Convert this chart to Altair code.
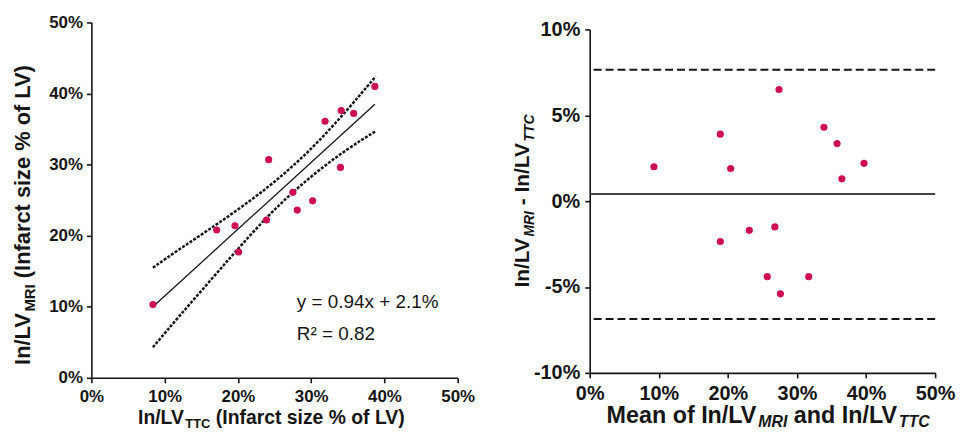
import altair as alt
import pandas as pd

# ---------------- data ----------------
# Left panel: In/LV TTC (x) vs In/LV MRI (y), in %
ttc = [8.4, 17.1, 19.6, 20.1, 23.9, 24.2, 27.5, 28.1, 30.2, 31.9, 34.0, 34.1, 35.8, 38.7]
mri = [10.3, 20.8, 21.4, 17.7, 22.2, 30.7, 26.1, 23.6, 24.9, 36.1, 29.6, 37.6, 37.2, 41.0]
# regression line end points
reg_x = [8.4, 38.7]
reg_y = [10.0, 38.5]
# 95% confidence band
band_x = [8.4, 12, 16, 20, 24, 27.5, 31, 35, 38.8]
band_upper = [15.5, 18.1, 20.8, 23.65, 26.7, 29.75, 33.2, 37.75, 42.4]
band_lower = [4.3, 8.7, 13.4, 18.15, 22.7, 26.15, 29.2, 32.25, 34.7]
equation_text = ["y = 0.94x + 2.1%", "R\u00b2 = 0.82"]

# Right panel: Bland-Altman
ba_mean = [9.3, 18.9, 20.4, 27.4, 33.9, 35.8, 36.5, 39.7, 18.9, 23.1, 26.8, 25.7, 31.7, 27.6]
ba_diff = [2.0, 3.9, 1.9, 6.5, 4.3, 3.35, 1.3, 2.2, -2.35, -1.7, -1.5, -4.4, -4.4, -5.4]
bias = [0.42]
limits = [7.65, -6.87]

left_ticks = [0, 10, 20, 30, 40, 50]
right_x_ticks = [0, 10, 20, 30, 40, 50]
right_y_ticks = [-10, -5, 0, 5, 10]

# ---------------- styling ----------------
FONT = "Liberation Sans"
INK = "#151515"
DOT = "#cc0e55"

# Arial/Liberation Sans Bold advance widths (per 1000 em) for text-run layout
W = {" ": 278, "%": 889, "(": 333, ")": 333, "-": 333, "/": 278, ".": 278,
     "C": 722, "I": 278, "L": 611, "M": 833, "R": 722, "T": 611, "V": 667,
     "a": 556, "c": 556, "d": 611, "e": 556, "f": 333, "i": 278, "m": 889,
     "n": 611, "o": 611, "r": 389, "s": 556, "t": 333, "z": 500}


def tw(s, size):
    return sum(W.get(c, 556) for c in s) * size / 1000.0


def _segments(segs):
    # split leading spaces off (SVG drops them) and turn them into an advance
    for text, size, italic, shift in segs:
        stripped = text.lstrip(" ")
        lead = tw(text[: len(text) - len(stripped)], size)
        yield stripped, size, italic, shift, lead


def _text(text, size, italic, angle=0):
    kw = dict(align="left", baseline="alphabetic", font=FONT, fontSize=size,
              fontWeight="bold", fontStyle="italic" if italic else "normal", color=INK)
    if angle:
        kw["angle"] = angle
    return alt.Chart(pd.DataFrame({"t": [text]})).mark_text(**kw)


def run_h(segs, x0, y0):
    out, x = [], x0
    for text, size, italic, shift, lead in _segments(segs):
        x += lead
        out.append(_text(text, size, italic).encode(text="t:N", x=alt.value(x), y=alt.value(y0 + shift)))
        x += tw(text, size)
    return out


def run_v(segs, x0, y0):
    out, y = [], y0
    for text, size, italic, shift, lead in _segments(segs):
        y -= lead
        out.append(_text(text, size, italic, 270).encode(text="t:N", x=alt.value(x0 + shift), y=alt.value(y)))
        y -= tw(text, size)
    return out


def axis(values, size, pad):
    return alt.Axis(values=values, title=None, grid=False, labelExpr="datum.value + '%'",
                    labelFont=FONT, labelFontWeight="bold", labelFontSize=size, labelColor=INK,
                    labelPadding=pad, labelFlush=False, labelOverlap=False,
                    domainColor=INK, domainWidth=1.6, tickColor=INK, tickWidth=1.6, tickSize=5)

# ---------------- left panel ----------------
LW, LH = 369, 358
lx = alt.X("x:Q", scale=alt.Scale(domain=[0, 50], nice=False), axis=axis(left_ticks, 17, 6))
ly = alt.Y("y:Q", scale=alt.Scale(domain=[0, 50], nice=False), axis=axis(left_ticks, 17, 4))

pts_l = alt.Chart(pd.DataFrame({"x": ttc, "y": mri})).mark_circle(
    size=52, color=DOT, opacity=1).encode(x=lx, y=ly)

band_df = pd.DataFrame({
    "x": band_x + band_x,
    "y": band_upper + band_lower,
    "side": ["upper"] * len(band_x) + ["lower"] * len(band_x),
})
band = alt.Chart(band_df).mark_line(color=INK, strokeWidth=2.5, strokeDash=[3, 1.5], interpolate="basis").encode(
    x=lx, y=ly, detail="side:N")
reg = alt.Chart(pd.DataFrame({"x": reg_x, "y": reg_y})).mark_line(color=INK, strokeWidth=1.3).encode(x=lx, y=ly)

eq = alt.Chart(pd.DataFrame({"t": equation_text, "row": [0, 1]})).mark_text(
    align="left", baseline="alphabetic", font=FONT, fontSize=19, color=INK).encode(
    text="t:N", x=alt.value(207), y=alt.value(288),
    yOffset=alt.YOffset("row:Q", scale=alt.Scale(domain=[0, 1], range=[0, 32])))

lx_title = run_h([("In/LV", 19.5, False, 0), ("TTC", 13, False, 4),
                  (" (Infarct size % of  LV)", 19.5, False, 0)], 47, 405)
ly_title = run_v([("In/LV", 22, False, 0), ("MRI", 15, False, 5),
                  (" (Infarct size % of LV)", 22, False, 0)], -62, 345)

left = alt.layer(band, reg, pts_l, eq, *lx_title, *ly_title).properties(width=LW, height=LH)

# ---------------- right panel ----------------
RW, RH = 348, 353
rx = alt.X("x:Q", scale=alt.Scale(domain=[0, 50], nice=False), axis=axis(right_x_ticks, 20, 6))
ry = alt.Y("y:Q", scale=alt.Scale(domain=[-10, 10], nice=False, range=[353, 7]), axis=axis(right_y_ticks, 20, 5))

pts_r = alt.Chart(pd.DataFrame({"x": ba_mean, "y": ba_diff})).mark_circle(
    size=52, color=DOT, opacity=1).encode(x=rx, y=ry)
bias_rule = alt.Chart(pd.DataFrame({"y": bias})).mark_rule(color="#444", strokeWidth=2).encode(y=ry)
loa_rule = alt.Chart(pd.DataFrame({"y": limits})).mark_rule(color=INK, strokeWidth=2, strokeDash=[8, 4]).encode(y=ry)

rx_title = run_h([("Mean of In/LV", 23.5, False, 0), ("MRI", 16, True, 4),
                  (" and In/LV", 23.5, False, 0), ("TTC", 16, True, 4)], 17, 404)
ry_title = run_v([("In/LV", 21, False, 0), ("MRI", 14, True, 5),
                  (" - In/LV", 21, False, 0), ("TTC", 14, True, 5)], -61, 267)

right = alt.layer(loa_rule, bias_rule, pts_r, *rx_title, *ry_title).properties(width=RW, height=RH)

chart = (
    alt.hconcat(left, right, spacing=133, bounds="flush")
    .properties(padding={"left": 3, "top": 4, "right": 0, "bottom": -3}, background="white")
    .configure_view(stroke=None)
)

chart.save("out.html", embed_options={"renderer": "svg", "actions": False})
